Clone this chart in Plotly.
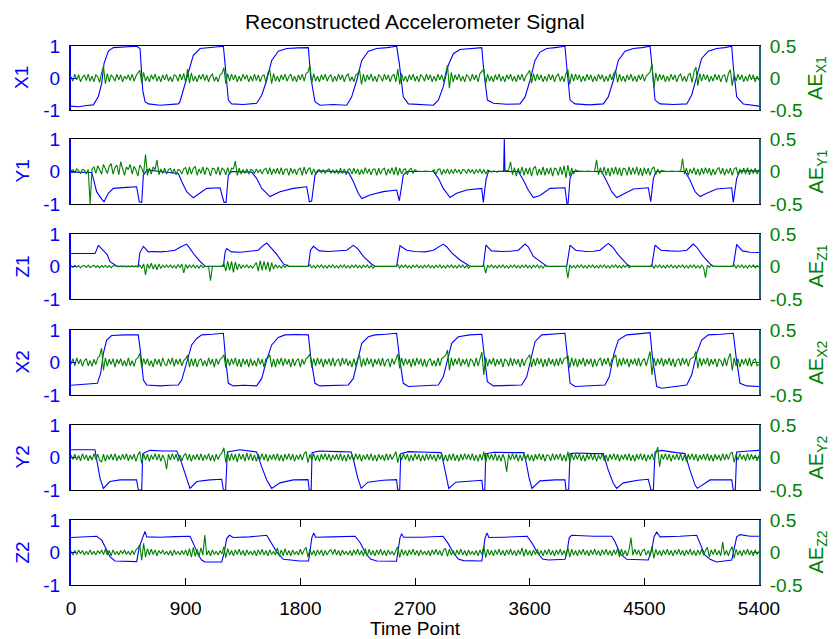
import plotly.graph_objects as go

W, H = 834, 639
BLUE = "#0000ff"
GREEN = "#008000"
FONT = "Liberation Sans, Arial, sans-serif"

TITLE = "Reconstructed Accelerometer Signal"
X_TITLE = "Time Point"
X_TICKS = [0, 900, 1800, 2700, 3600, 4500, 5400]
LEFT_TICKS = [-1, 0, 1]
RIGHT_TICKS = [-0.5, 0, 0.5]
NAMES = ["X1", "Y1", "Z1", "X2", "Y2", "Z2"]

# ---- blue signals: (time point, value) ----
X1 = [(0,-0.88),(60,-0.9),(120,-0.86),(175,-0.84),(214,-0.59),(241,-0.17),(259,0.45),(293,0.84),(332,0.95),(420,0.96),(515,0.99),(542,0.92),(563,-0.38),(581,-0.74),(607,-0.81),(699,-0.85),(780,-0.84),(842,-0.81),
      (855,-0.74),(895,-0.17),(921,0.24),(960,0.71),(1013,0.92),(1100,0.95),(1196,0.99),(1209,0.45),(1235,-0.69),(1261,-0.81),(1350,-0.83),(1457,-0.79),
      (1497,-0.54),(1536,-0.07),(1575,0.55),(1627,0.84),(1693,0.92),(1780,0.94),(1863,0.95),(1881,0.04),(1915,-0.74),(1954,-0.85),(2060,-0.83),(2164,-0.85),
      (2203,-0.59),(2243,-0.07),(2282,0.55),(2334,0.84),(2399,0.92),(2480,0.95),(2556,0.99),(2577,0.45),(2608,-0.59),(2648,-0.81),(2750,-0.84),(2844,-0.85),
      (2883,-0.69),(2922,-0.27),(2961,0.4),(3001,0.76),(3053,0.89),(3140,0.93),(3224,0.95),(3242,0.14),(3268,-0.69),(3315,-0.79),(3420,-0.82),(3524,-0.81),
      (3564,-0.59),(3603,-0.07),(3642,0.55),(3681,0.81),(3734,0.92),(3800,0.95),(3877,0.99),(3891,0.35),(3917,-0.69),(3956,-0.81),(4070,-0.84),(4178,-0.81),
      (4217,-0.59),(4257,-0.07),(4296,0.55),(4348,0.84),(4414,0.92),(4480,0.95),(4545,0.99),(4563,0.24),(4584,-0.69),(4623,-0.81),(4730,-0.83),(4833,-0.81),
      (4872,-0.53),(4911,0.04),(4950,0.61),(5002,0.84),(5068,0.92),(5130,0.95),(5186,0.99),(5198,0.35),(5225,-0.59),(5277,-0.81),(5340,-0.85),(5400,-0.88)]

Y1 = [(0,-0.02),(80,-0.03),(162,-0.03),(175,-0.21),(201,-0.62),(241,-0.85),(259,-0.93),(293,-0.67),(332,-0.52),(437,-0.49),(515,-0.47),(536,-0.93),(555,-0.95),(568,-0.11),(599,0.05),(700,0.0),(842,-0.06),
      (869,-0.31),(908,-0.62),(960,-0.81),(1013,-0.67),(1065,-0.52),(1170,-0.5),(1201,-0.95),(1217,-0.95),(1235,-0.11),(1261,0.0),(1418,-0.02),
      (1457,-0.21),(1497,-0.52),(1562,-0.77),(1640,-0.62),(1745,-0.52),(1850,-0.47),(1871,-0.93),(1889,-0.91),(1915,-0.11),(1941,0.02),(2177,-0.02),
      (2216,-0.31),(2255,-0.67),(2282,-0.83),(2347,-0.72),(2451,-0.62),(2556,-0.57),(2577,-0.9),(2596,-0.42),(2608,-0.11),(2635,0.0),(2844,0.0),
      (2883,-0.21),(2922,-0.52),(2975,-0.8),(3027,-0.67),(3106,-0.57),(3224,-0.52),(3236,-0.95),(3257,-0.26),(3276,0.0),(3396,0.0),(3401,1.0),(3406,0.0),(3511,0.0),
      (3550,-0.26),(3589,-0.57),(3629,-0.8),(3681,-0.74),(3760,-0.52),(3877,-0.5),(3893,-1.0),(3901,-1.0),(3917,-0.21),(3938,0.0),(4165,0.0),
      (4205,-0.31),(4244,-0.62),(4283,-0.8),(4335,-0.7),(4414,-0.54),(4531,-0.5),(4550,-0.93),(4571,-0.21),(4592,0.0),(4819,0.0),
      (4858,-0.26),(4898,-0.62),(4937,-0.77),(4990,-0.67),(5068,-0.54),(5186,-0.5),(5198,-0.95),(5225,-0.21),(5251,0.02),(5400,0.02)]

Z1 = [(0,0.4),(188,0.4),(200,0.5),(214,0.65),(240,0.55),(267,0.42),(285,0.36),(306,0.15),(330,0.08),(361,0.01),
      (528,0.01),(540,0.42),(568,0.62),(607,0.45),(650,0.46),(699,0.45),(760,0.47),(816,0.5),(860,0.6),(908,0.69),(935,0.55),(960,0.4),(1013,0.16),(1052,0.01),
      (1196,0.01),(1210,0.45),(1222,0.55),(1260,0.45),(1330,0.44),(1400,0.46),(1470,0.5),(1500,0.62),(1536,0.72),(1560,0.62),(1614,0.38),(1667,0.08),(1706,0.01),
      (1863,0.01),(1880,0.5),(1902,0.62),(1950,0.48),(2020,0.46),(2100,0.47),(2164,0.5),(2216,0.65),(2250,0.55),(2295,0.31),(2360,0.07),(2386,0.01),
      (2556,0.01),(2582,0.64),(2635,0.5),(2700,0.46),(2780,0.45),(2844,0.5),(2922,0.69),(2950,0.6),(2988,0.42),(3053,0.2),(3106,0.07),(3132,0.01),
      (3236,0.01),(3257,0.66),(3300,0.48),(3380,0.46),(3450,0.47),(3511,0.5),(3564,0.69),(3590,0.6),(3629,0.31),(3707,0.07),(3734,0.01),
      (3891,0.01),(3917,0.66),(3960,0.5),(4040,0.46),(4100,0.47),(4152,0.5),(4217,0.71),(4250,0.6),(4296,0.36),(4361,0.08),(4388,0.01),
      (4558,0.01),(4584,0.66),(4630,0.5),(4700,0.48),(4770,0.47),(4833,0.5),(4884,0.69),(4910,0.6),(4963,0.31),(5016,0.08),(5041,0.01),
      (5198,0.01),(5225,0.68),(5270,0.48),(5330,0.44),(5400,0.43)]

X2 = [(0,-0.7),(100,-0.68),(207,-0.64),(233,-0.33),(254,0.28),(280,0.69),(319,0.83),(420,0.85),(528,0.85),(547,0.28),(568,-0.54),(594,-0.69),(699,-0.72),(780,-0.7),(842,-0.69),
      (869,-0.54),(908,-0.03),(947,0.54),(987,0.74),(1026,0.85),(1110,0.87),(1196,0.9),(1214,0.08),(1235,-0.64),(1274,-0.72),(1360,-0.7),(1457,-0.72),
      (1497,-0.49),(1536,0.08),(1575,0.54),(1627,0.77),(1680,0.85),(1770,0.86),(1863,0.85),(1881,0.18),(1915,-0.64),(1954,-0.72),(2070,-0.7),(2177,-0.69),
      (2216,-0.49),(2250,0.08),(2282,0.59),(2334,0.79),(2386,0.85),(2470,0.87),(2556,0.9),(2577,0.18),(2608,-0.64),(2648,-0.74),(2760,-0.71),(2883,-0.69),
      (2922,-0.44),(2961,0.18),(2988,0.59),(3040,0.79),(3130,0.85),(3224,0.87),(3242,0.28),(3268,-0.59),(3315,-0.72),(3420,-0.7),(3537,-0.69),
      (3577,-0.44),(3611,0.18),(3642,0.64),(3694,0.85),(3790,0.87),(3877,0.9),(3896,0.18),(3917,-0.64),(3956,-0.74),(4070,-0.71),(4191,-0.69),
      (4225,-0.44),(4262,0.28),(4296,0.69),(4361,0.85),(4450,0.88),(4545,0.92),(4563,0.18),(4597,-0.74),(4636,-0.79),(4730,-0.75),(4833,-0.69),
      (4872,-0.38),(4911,0.28),(4950,0.69),(5002,0.85),(5100,0.87),(5198,0.9),(5220,0.18),(5251,-0.64),(5304,-0.72),(5400,-0.74)]

Y2 = [(0,0.24),(100,0.23),(188,0.24),(207,-0.18),(228,-0.64),(254,-0.95),(306,-0.74),(385,-0.69),(450,-0.7),(515,-0.69),(528,-1.0),(555,-1.0),(563,0.12),(620,0.22),(720,0.2),(830,0.2),
      (869,-0.18),(908,-0.64),(934,-0.95),(987,-0.74),(1091,-0.69),(1183,-0.67),(1196,-1.0),(1214,-1.0),(1227,0.17),(1327,0.24),(1457,0.17),
      (1497,-0.29),(1536,-0.69),(1575,-0.95),(1640,-0.78),(1745,-0.69),(1860,-0.68),(1870,-1.0),(1885,-1.0),(1892,0.15),(1950,0.2),(2100,0.18),(2200,0.17),
      (2225,-0.2),(2250,-0.62),(2278,-0.95),(2330,-0.76),(2450,-0.7),(2555,-0.68),(2565,-1.0),(2580,-1.0),(2588,0.12),(2650,0.18),(2800,0.16),(2905,0.15),
      (2925,-0.2),(2945,-0.62),(2965,-0.95),(3020,-0.76),(3130,-0.72),(3225,-0.7),(3232,-1.0),(3248,-1.0),(3255,0.12),(3320,0.16),(3450,0.15),(3555,0.15),
      (3575,-0.2),(3595,-0.62),(3618,-0.95),(3680,-0.72),(3800,-0.69),(3877,-0.69),(3885,-1.0),(3906,-1.0),(3917,0.12),(3969,0.14),(4100,0.12),(4178,0.12),
      (4217,-0.39),(4257,-0.8),(4283,-0.95),(4335,-0.78),(4450,-0.7),(4531,-0.67),(4552,-1.0),(4571,-1.0),(4584,0.17),(4636,0.22),(4750,0.15),(4819,0.12),
      (4858,-0.39),(4898,-0.85),(4916,-0.95),(5016,-0.69),(5186,-0.69),(5198,-1.0),(5214,-1.0),(5225,0.17),(5316,0.2),(5400,0.22)]

Z2 = [(0,0.46),(100,0.47),(201,0.5),(241,0.38),(275,0.12),(306,-0.13),(345,-0.26),(430,-0.27),(515,-0.28),(536,0.17),(555,0.4),(581,0.65),(594,0.48),(700,0.47),(820,0.49),
      (934,0.5),(960,0.28),(999,-0.08),(1026,-0.23),(1052,-0.29),(1183,-0.29),(1201,-0.03),(1222,0.43),(1243,0.53),(1274,0.46),(1400,0.48),
      (1536,0.53),(1575,0.28),(1614,0.02),(1667,-0.21),(1797,-0.26),(1865,-0.26),(1878,0.1),(1890,0.45),(1905,0.6),(1920,0.47),(2050,0.48),(2230,0.5),
      (2270,0.3),(2310,0.0),(2350,-0.2),(2400,-0.26),(2555,-0.27),(2568,0.1),(2582,0.45),(2595,0.58),(2610,0.47),(2750,0.47),(2920,0.5),
      (2960,0.28),(3000,0.0),(3040,-0.2),(3080,-0.25),(3225,-0.26),(3238,0.1),(3250,0.45),(3265,0.6),(3280,0.46),(3400,0.47),(3580,0.5),
      (3620,0.28),(3660,0.0),(3700,-0.2),(3750,-0.23),(3877,-0.21),(3891,-0.03),(3911,0.46),(3930,0.53),(4100,0.5),(4244,0.5),
      (4270,0.33),(4309,-0.03),(4361,-0.21),(4531,-0.23),(4558,0.07),(4576,0.48),(4597,0.63),(4623,0.48),(4780,0.5),(4911,0.53),
      (4937,0.28),(4976,-0.08),(5016,-0.21),(5068,-0.29),(5186,-0.23),(5204,0.07),(5225,0.48),(5251,0.55),(5330,0.5),(5400,0.5)]

# ---- green reconstruction error (right axis), in hundredths, one value every 15 time points ----
T_AE = list(range(0, 5401, 15))

AE_X1_C = [2,-5,6,-3,5,-6,1,5,-4,6,
           -5,3,-6,5,2,-7,8,18,-9,7,
           -6,5,1,-5,6,-3,5,-6,3,-2,
           5,-4,6,-5,3,7,12,-8,9,-5,
           3,-6,5,-2,6,-5,3,-6,5,-3,
           6,-5,2,-6,5,3,-5,6,-3,7,
           -7,14,-8,8,-5,3,-6,5,-2,6,
           -4,5,-6,3,6,-5,2,-6,5,7,
           16,-9,7,-5,6,-3,5,-6,3,-5,
           6,-2,5,-6,3,-5,6,-4,5,-6,
           3,5,-7,8,13,-9,7,-5,3,-6,
           5,-3,6,-5,2,6,-5,3,-6,5,
           -3,6,-5,7,9,20,-8,7,-5,3,
           -6,5,-3,6,-5,2,5,-6,3,-5,
           6,-3,5,-6,3,6,-5,2,-6,5,
           7,12,-10,6,-6,5,-3,6,-5,3,
           -6,5,2,-5,6,-3,5,-6,3,6,
           -6,14,-10,7,-5,3,-6,5,-3,6,
           -5,3,-6,5,2,-5,6,-3,5,-6,
           3,-5,6,-3,5,-6,8,20,-16,9,
           -6,5,-3,6,-5,3,-6,5,2,-5,
           6,-3,5,-6,7,10,14,-9,6,-5,
           3,-6,5,-3,6,-5,3,-6,5,-2,
           6,-5,3,-6,5,-3,6,-5,3,7,
           12,-8,7,-5,6,-3,5,-6,3,-5,
           6,-3,5,-6,3,6,-5,3,-6,7,
           13,-10,7,-5,6,-3,5,-6,3,-5,
           6,-3,5,-6,3,-5,6,-2,5,-6,
           3,-5,6,-3,7,12,-7,6,-5,3,
           -6,5,-3,6,-5,3,-6,5,-3,6,
           -5,3,6,9,22,-16,8,-5,6,-3,
           5,-6,3,-5,6,-3,5,-6,3,6,
           -5,3,-6,5,7,-7,10,17,-12,7,
           -5,6,-3,5,-6,3,-5,6,-3,5,
           -6,3,5,-7,7,13,-12,6,-5,6,
           -3,5,-6,3,-5,6,-3,5,-6,3,
           -4]

AE_Y1_C = [1,3,-2,4,1,-3,3,2,-4,3,
           -50,4,7,-3,9,3,-4,11,5,-3,
           8,12,-4,6,10,-5,15,4,-6,7,
           3,11,-4,8,2,-7,10,5,-3,26,
           -6,5,-4,7,3,18,-5,4,-3,5,
           -4,3,5,-3,4,-5,3,2,-4,4,
           6,-5,7,-4,5,8,-6,4,-3,7,
           -5,6,3,-7,5,4,-4,7,-6,5,
           3,-5,6,-4,5,4,16,-6,5,-4,
           3,-3,4,-4,3,2,-3,4,-2,3,
           -4,3,5,-4,6,-5,4,-3,5,-4,
           6,-5,3,4,-6,5,-3,4,-5,3,
           5,-6,7,-4,3,6,-5,4,-3,2,
           3,-2,3,-3,2,4,-3,2,-3,3,
           -4,5,-3,4,-5,3,4,-4,5,-3,
           4,-5,3,-4,6,-3,4,-5,3,4,
           -6,5,-4,3,5,-6,4,-3,6,-5,
           7,-6,5,-4,3,4,-5,3,5,-3,
           3,0.5,0,0.5,0,0.5,0,0.5,0,0.5,
           3,-4,3,4,-5,3,-3,4,-4,3,
           -3,4,-2,3,-4,3,2,-3,4,-2,
           3,-4,3,-2,4,-3,3,-4,2,1,
           -1,1,0.5,-1,1,0,1,3,1,2,
           15,-5,6,-7,5,-4,7,-6,5,-4,
           6,-7,5,8,-6,4,-5,7,-6,5,
           -4,6,-7,5,4,-6,7,-5,9,-10,
           10,-7,5,-4,3,1,0.5,0,0.5,0,
           0.5,0,0.5,0,0.5,18,-5,6,-4,7,
           -6,5,-7,6,-4,7,-5,6,-7,5,
           4,-6,7,-5,6,-4,7,-6,5,-7,
           6,-4,5,-6,4,7,-5,4,-3,2,
           0.5,0,0.5,0,0.5,0,0.5,0,0.5,0,
           20,-4,5,-6,4,-3,6,-5,4,-6,
           5,-4,6,-3,5,-6,4,-5,3,6,
           -4,5,-6,4,-3,5,-6,4,6,-5,
           4,-3,5,-4,6,-5,4,-3,5,-4,
           3]

AE_Z1_C = [1.5,-1.5,2,-1,1.5,-2,1,1.5,-1.5,2,
           -1.5,1,2,-1.5,1.5,-2,1.5,-1,2,-1.5,
           1.5,-2,1,1.5,0.5,-0.5,0.8,-0.5,0.5,-0.8,
           0.5,-0.5,0.8,-0.5,0.5,-0.8,2,-3,4,-13,
           4,-3,5,-4,3,-5,4,-3,2,-1.5,
           2,-1.5,2.5,-2,1.5,-2.5,3,-2,4,-10,
           3,-2.5,2,-1.5,2.5,-2,1.5,-2.5,2,-1.5,
           0,0,0,-22,0,0,0,0,0,0,
           5,-7,8,-6,8,-9,7,-5,4,-3,
           2,-1.5,2.5,-2,1.5,-2.5,2,6,-7,9,
           -6,8,-5,7,-8,6,-4,3,-2,1.5,
           -2.5,2,-1.5,2.5,0,0,0,0,0,0,
           0,0,0,0,0,2.5,-2,1.5,-2.5,2,
           -1.5,2.5,-2,1.5,-2.5,2,-1.5,2.5,-2,1.5,
           -2.5,2,-1.5,2.5,-2,1.5,-2.5,2,-1.5,2.5,
           -2,1.5,-2.5,2,-1.5,2.5,-2,1.5,-2.5,0,
           0,0,0,0,0,0,0,0,0,0,
           0,3,-2.5,2,-1.5,2.5,-2,1.5,-2.5,2,
           -1.5,2.5,-2,1.5,-2.5,2,-1.5,2.5,-2,1.5,
           -2.5,2,-1.5,2.5,-2,1.5,-2.5,2,-1.5,2.5,
           -2,1.5,-2.5,2,-1.5,2.5,-2,1.5,-2.5,0,
           0,0,0,0,0,0,2.5,-10,2,-1.5,
           2.5,-2,1.5,-2.5,2,-1.5,2.5,-2,1.5,-2.5,
           2,-1.5,2.5,-2,1.5,-2.5,2,-1.5,2.5,-2,
           1.5,-2.5,2,-1.5,2.5,-2,1.5,-2.5,2,0,
           0,0,0,0,0,0,0,0,0,0,
           -18,2.5,-2,1.5,-2.5,2,-1.5,2.5,-2,1.5,
           -2.5,2,-1.5,2.5,-2,1.5,-2.5,2,-1.5,2.5,
           -2,1.5,-2.5,2,-1.5,2.5,-2,1.5,-2.5,2,
           -1.5,2.5,-2,0,0,0,0,0,0,0,
           0,0,0,0,3,-2.5,2,-1.5,2.5,-2,
           1.5,-2.5,2,-1.5,2.5,-2,1.5,-2.5,2,-1.5,
           2.5,-2,1.5,-2.5,2,-1.5,2.5,-2,1.5,-2.5,
           2,-1.5,-17,2,-1.5,2.5,0,0,0,0,
           0,0,0,0,0,0,0,3,-2.5,2,
           -1.5,2.5,-2,1.5,-2.5,2,-1.5,2.5,-2,1.5,
           -1]

AE_X2_C = [-3,6,-5,7,-2,5,-6,3,6,-5,
           3,-6,5,-3,7,10,22,-12,7,-6,
           5,-3,6,-7,5,-2,6,-5,3,-6,
           7,-5,3,-6,5,7,14,-8,6,-3,
           6,-5,3,-7,6,-3,5,-6,7,-2,
           -5,6,-3,7,-6,5,-3,6,-5,3,
           6,11,-7,6,-5,6,-7,3,6,-5,
           3,-6,7,-3,5,-7,6,-3,5,7,
           12,-8,6,-5,6,-3,7,-6,5,-7,
           6,-3,5,-7,6,-5,3,-6,7,-3,
           5,-7,6,7,12,-7,5,-7,6,-3,
           7,-5,6,-3,5,-7,6,-5,3,6,
           -7,5,-3,6,8,13,-8,6,-5,7,
           -3,6,-7,5,-3,6,-5,7,-6,3,
           5,-6,7,-3,6,-5,3,-7,6,-5,
           6,11,-7,6,-5,7,-3,6,-7,5,
           -3,6,-5,7,-6,3,5,-7,6,-3,
           5,13,-9,7,-5,6,-3,5,-7,6,
           -5,7,-3,6,-6,5,-7,3,6,-5,
           3,-6,7,-5,6,9,11,19,-12,7,
           -5,6,-3,7,-6,5,-3,6,-7,5,
           3,-6,7,-5,7,16,-19,8,-6,5,
           -3,7,-6,5,-3,6,-7,5,3,-6,
           7,-5,6,-3,5,-7,6,-5,3,7,
           12,-7,6,-5,7,-3,6,-7,5,-6,
           7,-3,5,-6,6,-5,7,-3,6,7,
           11,-8,7,-5,6,-7,5,-3,7,-6,
           5,-3,6,-7,5,-6,3,7,-5,6,
           -3,7,-6,5,7,12,-7,6,-5,7,
           -3,6,-7,5,-3,6,-5,7,-6,3,
           6,-5,7,17,-19,7,-5,6,-3,7,
           -6,5,-3,7,-5,6,-7,3,6,-5,
           7,-3,6,-6,5,7,9,17,-9,7,
           -5,6,-3,7,-6,5,-3,6,-7,5,
           3,-6,7,-5,7,14,-12,7,-5,6,
           -7,5,-3,6,-5,7,-6,3,6,-5,
           -3]

AE_Y2_C = [4,-3,5,-4,3,-5,6,-3,4,-5,
           3,-4,6,-3,5,-4,-7,5,-6,4,
           -3,5,-4,6,-5,3,-4,5,-3,6,
           -5,4,-3,5,-6,4,9,-9,6,-4,
           5,-6,4,-3,6,-4,5,-6,4,-3,
           -18,5,-4,6,-3,5,-6,4,-5,3,
           6,-4,5,-6,4,-3,5,-4,6,-5,
           4,-3,6,-5,4,-6,5,-3,4,7,
           15,-8,7,-5,6,-4,5,-7,6,-3,
           5,-6,7,-4,6,-5,4,-6,5,-3,
           6,-4,5,-6,4,-3,5,-4,6,-5,
           4,-6,5,-3,6,-4,5,-6,4,-3,
           5,-4,6,9,-8,5,-4,6,-5,4,
           -6,5,-3,6,-4,5,-6,4,-3,5,
           -4,6,-5,4,-6,5,-3,4,-5,6,
           -3,5,-6,4,-3,5,-4,6,-5,4,
           -6,5,-3,4,-5,6,-4,5,-3,4,
           9,-8,5,-4,6,-3,5,-6,4,-5,
           6,-3,5,-6,4,-5,6,-4,5,-3,
           4,-6,5,-3,6,-5,4,-6,5,-4,
           6,-5,4,-6,5,-4,6,-3,5,-4,
           6,-5,4,-6,5,-4,9,-8,6,-3,
           5,-4,6,-5,4,-6,5,-3,-22,5,
           -4,6,-3,5,-6,4,-5,6,-3,5,
           -5,4,-6,5,-3,6,-4,5,-6,4,
           3,-5,6,-4,5,-3,6,-5,4,-6,
           9,-8,6,-4,5,-3,6,-5,4,-6,
           5,-3,6,-4,5,-6,4,-3,6,-5,
           4,-6,5,-3,6,-4,5,-6,4,-3,
           5,-4,6,-5,4,-6,5,-3,6,-4,
           5,-6,4,-3,6,-4,5,16,-14,5,
           -3,6,-4,5,-6,4,-3,5,-4,6,
           -5,4,-6,5,-3,6,-4,5,-6,4,
           -3,5,-4,6,-5,4,-6,5,-3,4,
           -5,6,-4,5,-3,6,8,-7,5,-4,
           6,-3,4,-5,6,-4,5,-3,4,-5,
           3]

AE_Z2_C = [2,-4,3,-3,4,-2,3,-4,2,-3,
           4,-3,2,-4,3,-2,4,-3,5,-4,
           3,-5,4,-3,2,-4,3,-2,4,-3,
           2,-4,3,-3,4,7,12,-12,14,-7,
           6,-4,5,-3,4,-5,3,-2,4,-3,
           2,-4,3,-5,4,-3,2,-4,3,-3,
           4,-5,6,-7,8,-6,5,-6,7,-4,
           27,-4,3,-5,4,-3,2,-4,3,-2,
           9,-8,6,-4,3,-5,4,-3,5,-4,
           3,-5,4,-3,2,-4,3,-5,4,-3,
           5,-4,3,-5,4,-3,2,-4,7,-6,
           4,-5,6,-4,3,-5,4,-3,2,-4,
           5,-3,4,8,-7,5,-4,3,-5,4,
           -3,4,-5,3,-4,2,4,-3,5,-4,
           3,-5,4,-3,2,-4,3,-5,4,-3,
           5,-4,3,-5,6,-6,5,-4,3,-5,
           4,-3,5,-4,3,-5,4,-3,2,-4,
           3,9,-8,5,-4,3,-5,4,-3,5,
           -4,3,-5,4,-3,2,-4,3,-5,4,
           -3,5,-4,3,-5,4,6,-6,5,-4,
           3,-5,4,-3,5,-4,3,-5,4,-3,
           2,-4,3,-5,4,-3,10,-8,5,-4,
           3,-5,4,-3,5,-4,3,-5,4,-3,
           5,-4,3,-5,4,-3,7,-6,5,-4,
           3,-5,4,-3,5,-4,3,-5,4,-3,
           5,-4,3,-5,4,-3,5,-4,3,-5,
           8,-7,5,-4,3,-5,4,-3,5,-4,
           3,-5,4,-3,5,-4,3,-5,4,-3,
           5,-4,3,-5,4,-3,6,-7,5,-4,
           3,-5,4,23,-4,5,-3,4,-5,3,
           5,-4,3,-5,10,-9,5,-4,3,-5,
           4,-3,5,-4,3,-5,4,-3,5,-4,
           3,-5,4,-3,5,-4,3,-5,4,-3,
           5,-4,3,8,-7,4,-3,5,-4,3,
           -5,16,-4,3,-5,4,9,-9,5,-4,
           3,-5,4,-3,5,-4,3,-5,4,-3,
           2]

BLUE_SERIES = [X1, Y1, Z1, X2, Y2, Z2]
GREEN_SERIES_C = [AE_X1_C, AE_Y1_C, AE_Z1_C, AE_X2_C, AE_Y2_C, AE_Z2_C]

# ---- layout geometry (pixels) ----
PLOT_L, PLOT_R = 71, 759
PANELS = [(46, 110), (139, 204), (234, 299), (330, 395), (425, 490), (520, 585)]

fig = go.Figure()
layout = dict(
    width=W, height=H, margin=dict(l=0, r=0, t=0, b=0, pad=0, autoexpand=False),
    paper_bgcolor="white", plot_bgcolor="white", showlegend=False,
    font=dict(family=FONT, size=19, color="black"),
)
annotations = []

for r in range(1, 7):
    name = NAMES[r - 1]
    blue = BLUE_SERIES[r - 1]
    green = [v / 100 for v in GREEN_SERIES_C[r - 1]]  # hundredths -> axis units
    xa = "x" if r == 1 else f"x{r}"
    yl, yr = 2 * r - 1, 2 * r
    yla = "y" if yl == 1 else f"y{yl}"
    yra = f"y{yr}"
    fig.add_trace(go.Scatter(x=[p[0] for p in blue], y=[p[1] for p in blue], mode="lines",
                             line=dict(color=BLUE, width=1.1), xaxis=xa, yaxis=yla, hoverinfo="skip"))
    fig.add_trace(go.Scatter(x=T_AE[:len(green)], y=green, mode="lines",
                             line=dict(color=GREEN, width=1.1), xaxis=xa, yaxis=yra, hoverinfo="skip"))
    top, bot = PANELS[r - 1]
    dom = [1 - bot / H, 1 - top / H]
    xkey = "xaxis" if r == 1 else f"xaxis{r}"
    xax = dict(domain=[PLOT_L / W, PLOT_R / W], range=[0, 5400], anchor=yla, automargin=False,
               showline=True, mirror=True, linecolor="black", linewidth=1,
               showgrid=False, zeroline=False, fixedrange=True)
    if r == 6:
        xax.update(tickmode="array", tickvals=X_TICKS, ticktext=[str(v) for v in X_TICKS],
                   ticks="inside", ticklen=7, tickcolor="black", mirror="ticks",
                   tickfont=dict(family=FONT, size=19, color="black"), ticklabelstandoff=6)
    else:
        xax.update(showticklabels=False, ticks="")
    layout[xkey] = xax
    ylkey = "yaxis" if yl == 1 else f"yaxis{yl}"
    layout[ylkey] = dict(domain=dom, range=[-1, 1], anchor=xa, automargin=False, tickmode="array",
                         tickvals=LEFT_TICKS, ticktext=["-1", "0", "1"],
                         ticks="inside", ticklen=5, tickcolor=BLUE,
                         showline=True, linecolor=BLUE, linewidth=2,
                         showgrid=False, zeroline=False, fixedrange=True,
                         tickfont=dict(family=FONT, size=19, color=BLUE), ticklabelstandoff=5)
    layout[f"yaxis{yr}"] = dict(domain=dom, range=[-0.5, 0.5], anchor=xa, overlaying=yla, side="right",
                                automargin=False, tickmode="array", tickvals=RIGHT_TICKS,
                                ticktext=["-0.5", "0", "0.5"],
                                ticks="inside", ticklen=6, tickcolor=GREEN,
                                showline=True, linecolor="#20607f", linewidth=2,
                                showgrid=False, zeroline=False, fixedrange=True,
                                tickfont=dict(family=FONT, size=19, color=GREEN), ticklabelstandoff=5)
    yc = 1 - (top + bot) / 2 / H
    annotations.append(dict(text=name, x=22 / W, y=yc, xref="paper", yref="paper",
                            xanchor="center", yanchor="middle", textangle=-90, showarrow=False,
                            font=dict(family=FONT, size=19, color=BLUE)))
    annotations.append(dict(text=f"AE<sub>{name}</sub>", x=817 / W, y=yc, xref="paper", yref="paper",
                            xanchor="center", yanchor="middle", textangle=-90, showarrow=False,
                            font=dict(family=FONT, size=20, color=GREEN)))

annotations.append(dict(text=TITLE, x=(PLOT_L + PLOT_R) / 2 / W, y=1 - 21 / H, xref="paper", yref="paper",
                        xanchor="center", yanchor="middle", showarrow=False,
                        font=dict(family=FONT, size=21, color="black")))
annotations.append(dict(text=X_TITLE, x=(PLOT_L + PLOT_R) / 2 / W, y=1 - 628 / H, xref="paper", yref="paper",
                        xanchor="center", yanchor="middle", showarrow=False,
                        font=dict(family=FONT, size=19, color="black")))
layout["annotations"] = annotations
fig.update_layout(**layout)
fig.write_html("out.html")
